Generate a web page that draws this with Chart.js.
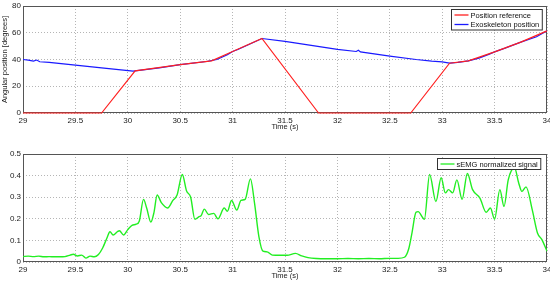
<!DOCTYPE html>
<html>
<head>
<meta charset="utf-8">
<script src="https://cdn.jsdelivr.net/npm/chart.js@4/dist/chart.umd.min.js"></script>
<style>
body { margin:0; background:#fff; }
#wrap { position:relative; width:550px; height:282px; }
#posChart { position:absolute; left:0; top:0; }
#emgChart { position:absolute; left:0; top:140px; }
</style>
</head>
<body>
<div id="wrap">
<canvas id="posChart" width="550" height="140"></canvas>
<canvas id="emgChart" width="550" height="142"></canvas>
</div>
<script>
//data posisi referensi (merah)
var timeRef = [29, 29.75, 30.07, 30.5, 30.8, 31.0, 31.28, 31.82, 32.70, 33.07, 33.25, 33.5, 33.75, 34];
var posRef = [0, 0, 31.5, 36.2, 39, 46, 55.7, 0, 0, 37.2, 39, 45.7, 53, 61.4];

//data posisi exoskeleton (biru)
var timeExo = [29, 29.05, 29.1, 29.13, 29.16, 29.25, 29.5, 29.75, 30.05, 30.3, 30.5, 30.75, 30.85, 30.95, 31.0, 31.05,
    31.15, 31.28, 31.5, 31.75, 32.0, 32.18, 32.2, 32.22, 32.5, 32.75, 32.9, 33.0, 33.07, 33.15, 33.25, 33.35, 33.45,
    33.5, 33.6, 33.75, 33.9, 34];
var posExo = [40, 39.5, 38.8, 39.6, 38.3, 37.8, 35.8, 33.8, 31.3, 33.8, 36.2, 38.5, 40, 43.5, 46, 47.5,
    51, 55.7, 53.5, 50.5, 47.6, 46.0, 46.9, 45.7, 42.5, 40, 38.8, 38.2, 37.3, 37.8, 39, 41, 44,
    45.7, 48.5, 53, 57, 61.4];

//data sinyal sEMG (hijau)
var timeEmg = [29.00, 29.05, 29.10, 29.15, 29.20, 29.25, 29.30, 29.35, 29.40, 29.45, 29.48, 29.52, 29.56, 29.60,
    29.64, 29.68, 29.72, 29.76, 29.80, 29.83, 29.86, 29.90, 29.92, 29.96, 30.00, 30.04, 30.08, 30.11, 30.15, 30.18,
    30.22, 30.25, 30.28, 30.32, 30.38, 30.43, 30.47, 30.52, 30.56, 30.60, 30.64, 30.68, 30.70, 30.73, 30.77, 30.82,
    30.86, 30.92, 30.95, 30.99, 31.04, 31.08, 31.12, 31.17, 31.21, 31.25, 31.29, 31.33, 31.38, 31.45, 31.52, 31.60,
    31.66, 31.72, 31.80, 31.90, 32.00, 32.10, 32.20, 32.30, 32.40, 32.50, 32.58, 32.64, 32.68, 32.71, 32.75, 32.77,
    32.83, 32.88, 32.94, 32.99, 33.03, 33.06, 33.10, 33.14, 33.19, 33.24, 33.29, 33.36, 33.42, 33.46, 33.50, 33.55,
    33.59, 33.63, 33.69, 33.73, 33.76, 33.80, 33.86, 33.91, 33.95, 34.00];
var emgVal = [0.025, 0.027, 0.025, 0.027, 0.024, 0.025, 0.024, 0.024, 0.025, 0.032, 0.036, 0.028, 0.032, 0.018,
    0.027, 0.024, 0.035, 0.065, 0.11, 0.14, 0.125, 0.14, 0.145, 0.125, 0.15, 0.17, 0.175, 0.19, 0.29, 0.25,
    0.185, 0.23, 0.31, 0.275, 0.25, 0.285, 0.31, 0.405, 0.33, 0.30, 0.198, 0.21, 0.215, 0.245, 0.22, 0.225,
    0.20, 0.25, 0.235, 0.285, 0.24, 0.285, 0.29, 0.385, 0.27, 0.12, 0.05, 0.047, 0.032, 0.031, 0.031, 0.040,
    0.028, 0.02, 0.016, 0.015, 0.015, 0.016, 0.015, 0.016, 0.015, 0.017, 0.017, 0.022, 0.06, 0.13, 0.23, 0.233,
    0.198, 0.405, 0.28, 0.39, 0.32, 0.335, 0.32, 0.38, 0.29, 0.41, 0.335, 0.296, 0.23, 0.25, 0.198, 0.335,
    0.257, 0.38, 0.436, 0.366, 0.327, 0.348, 0.24, 0.133, 0.105, 0.05];

//tick sumbu
var timeTicks = [29, 29.5, 30, 30.5, 31, 31.5, 32, 32.5, 33, 33.5, 34];
var posTicks = [0, 20, 40, 60, 80];
var emgTicks = [0, 0.1, 0.2, 0.3, 0.4, 0.5];

var fontName = '"Liberation Sans", Arial, sans-serif';

//gabung x dan y jadi titik
function gabung(xs, ys) {
    var out = [];
    for (var i = 0; i < xs.length; i++) {
        out.push({ x: xs[i], y: ys[i] });
    }
    return out;
}

//format angka tick tanpa nol di belakang
function formatTick(v) {
    return String(+Number(v).toFixed(2));
}

//kotak di sekeliling area plot (di bawah garis data) + legenda di pojok kanan atas
var kotakPlugin = {
    id: 'kotak',
    beforeDatasetsDraw: function (chart) {
        var ctx = chart.ctx;
        var a = chart.chartArea;
        ctx.save();
        ctx.strokeStyle = '#555';
        ctx.lineWidth = 1;
        ctx.setLineDash([]);
        ctx.strokeRect(Math.round(a.left) + 0.5, Math.round(a.top) + 0.5,
            Math.round(a.right - a.left) - 1, Math.round(a.bottom - a.top) - 1);
        ctx.restore();
    },
    afterDraw: function (chart, args, opts) {
        var ctx = chart.ctx;
        var a = chart.chartArea;
        var sets = chart.data.datasets;
        ctx.save();
        ctx.font = '7.5px ' + fontName;
        var maxW = 0;
        for (var i = 0; i < sets.length; i++) {
            maxW = Math.max(maxW, ctx.measureText(sets[i].label).width);
        }
        var rowH = 9.5;
        var w = 3 + 14 + 2 + maxW + 3;
        var h = sets.length * rowH + 1.5;
        var x0 = Math.round(a.right - opts.kanan - w) + 0.5;
        var y0 = Math.round(a.top + opts.atas) + 0.5;
        ctx.fillStyle = '#fff';
        ctx.fillRect(x0, y0, w, h);
        ctx.strokeStyle = '#333';
        ctx.lineWidth = 1;
        ctx.strokeRect(x0, y0, w, h);
        ctx.textBaseline = 'middle';
        ctx.textAlign = 'left';
        for (var i = 0; i < sets.length; i++) {
            var cy = y0 + 5.5 + i * rowH;
            ctx.strokeStyle = sets[i].borderColor;
            ctx.lineWidth = 1.3;
            ctx.beginPath();
            ctx.moveTo(x0 + 3, cy);
            ctx.lineTo(x0 + 17, cy);
            ctx.stroke();
            ctx.fillStyle = '#111';
            ctx.fillText(sets[i].label, x0 + 19, cy + 0.5);
        }
        ctx.restore();
    }
};

//opsi sumbu x (waktu)
function sumbuX() {
    return {
        type: 'linear',
        min: 29,
        max: 34,
        afterBuildTicks: function (s) { s.ticks = timeTicks.map(function (v) { return { value: v }; }); },
        afterFit: function (s) { s.height = 20; s.paddingLeft = 0; s.paddingRight = 0; },
        grid: { color: '#b5b5b5', drawTicks: false, lineWidth: 1 },
        border: { display: false, dash: [1, 2] },
        ticks: { padding: 3, color: '#222', font: { family: fontName, size: 8 }, maxRotation: 0, autoSkip: false, callback: formatTick },
        title: { display: true, text: 'Time (s)', color: '#222', padding: { top: 0, bottom: 2 }, font: { family: fontName, size: 7.5 } }
    };
}

//opsi sumbu y
function sumbuY(mx, ticks, judul) {
    return {
        min: 0,
        max: mx,
        afterBuildTicks: function (s) { s.ticks = ticks.map(function (v) { return { value: v }; }); },
        afterFit: function (s) { s.width = 23; s.paddingTop = 0; s.paddingBottom = 0; },
        grid: { color: '#b5b5b5', drawTicks: false, lineWidth: 1 },
        border: { display: false, dash: [1, 2] },
        ticks: { padding: 2, color: '#222', font: { family: fontName, size: 8 }, autoSkip: false, callback: formatTick },
        title: { display: judul != '', text: judul, color: '#222', padding: { top: 0, bottom: 1 }, font: { family: fontName, size: 7.5 } }
    };
}

//chart atas : posisi sudut
function posChart() {
    var ctx = document.getElementById('posChart').getContext('2d');
    var myChart = new Chart(ctx, {
        type: 'line',
        data: {
            datasets: [{
                label: 'Position reference',
                data: gabung(timeRef, posRef),
                borderColor: '#ff2020',
                borderWidth: 1.2,
                pointRadius: 0,
                tension: 0,
                clip: 3
            }, {
                label: 'Exoskeleton position',
                data: gabung(timeExo, posExo),
                borderColor: '#1a1aff',
                borderWidth: 1.2,
                pointRadius: 0,
                tension: 0
            }]
        },
        options: {
            responsive: false,
            animation: false,
            devicePixelRatio: 1,
            layout: { padding: { top: 6, right: 3, bottom: 7, left: 0 } },
            plugins: { legend: { display: false }, tooltip: { enabled: false }, kotak: { kanan: 5, atas: 3 } },
            scales: { x: sumbuX(), y: sumbuY(80, posTicks, 'Angular position [degrees]') }
        },
        plugins: [kotakPlugin]
    });
}

//chart bawah : sinyal sEMG
function emgChart() {
    var ctx = document.getElementById('emgChart').getContext('2d');
    var myChart = new Chart(ctx, {
        type: 'line',
        data: {
            datasets: [{
                label: 'sEMG normalized signal',
                data: gabung(timeEmg, emgVal),
                borderColor: '#22ee22',
                borderWidth: 1.4,
                pointRadius: 0,
                cubicInterpolationMode: 'monotone'
            }]
        },
        options: {
            responsive: false,
            animation: false,
            devicePixelRatio: 1,
            layout: { padding: { top: 14, right: 3, bottom: 0, left: 0 } },
            plugins: { legend: { display: false }, tooltip: { enabled: false }, kotak: { kanan: 7, atas: 4 } },
            scales: { x: sumbuX(), y: sumbuY(0.5, emgTicks, '') }
        },
        plugins: [kotakPlugin]
    });
}

posChart();
emgChart();
</script>
</body>
</html>
